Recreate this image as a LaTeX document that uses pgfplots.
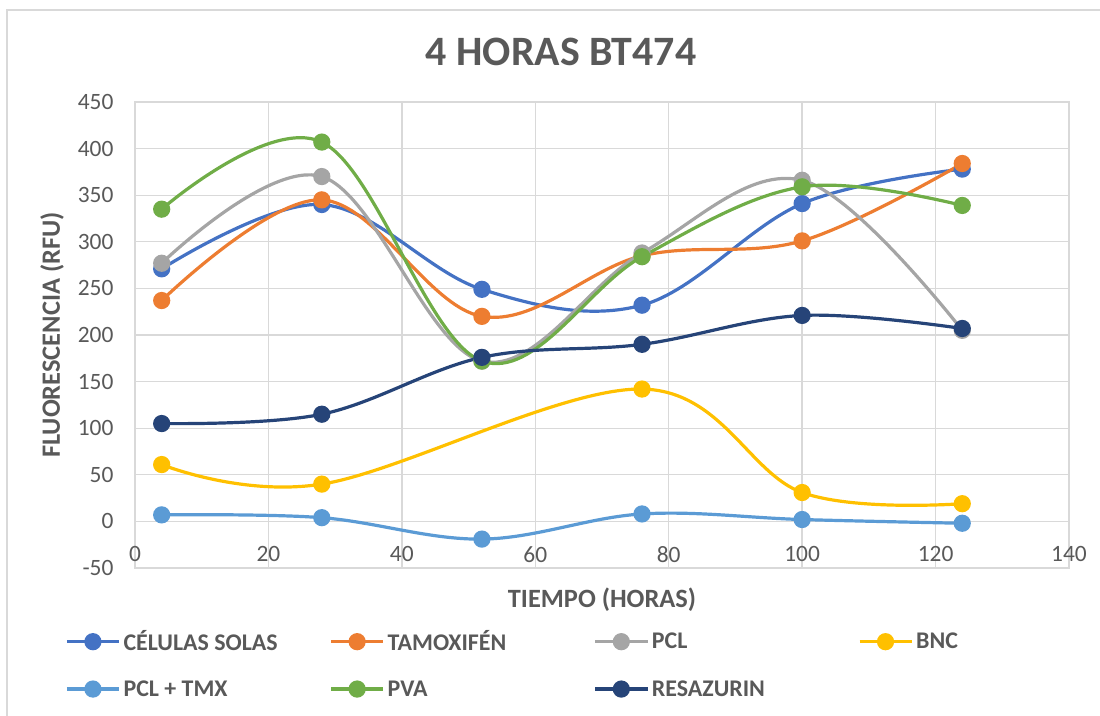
\documentclass[border=0pt]{standalone}
\usepackage{pgfplots}
\pgfplotsset{compat=1.18}
\usepackage{fontspec}
\setmainfont{Carlito}
\definecolor{c1}{HTML}{4472C4}
\definecolor{c2}{HTML}{ED7D31}
\definecolor{c3}{HTML}{A5A5A5}
\definecolor{c4}{HTML}{FFC000}
\definecolor{c5}{HTML}{5B9BD5}
\definecolor{c6}{HTML}{70AD47}
\definecolor{c7}{HTML}{264478}
\definecolor{textc}{HTML}{595959}
\definecolor{gridc}{HTML}{D9D9D9}
\definecolor{axisc}{HTML}{BFBFBF}
\newcommand{\legtxt}[1]{\makebox[203bp][l]{#1}}
\begin{document}
\begin{tikzpicture}
\path[use as bounding box] (-135bp,-148bp) rectangle (965bp,568bp);
\draw[gridc, line width=1.2bp] (-128bp,-160bp) -- (-128bp,558bp) -- (980bp,558bp);
\begin{axis}[
  scale only axis, width=934bp, height=466bp,
  xmin=0, xmax=140, ymin=-50, ymax=450,
  xtick={0,20,...,140}, ytick={-50,0,...,450},
  grid=major, major grid style={draw=gridc, line width=1.3bp},
  axis line style={draw=gridc, line width=1.3bp},
  extra y ticks={0}, extra y tick labels={},
  extra y tick style={grid style={draw=axisc, line width=1.6bp}},
  tick style={draw=none},
  /pgf/number format/assume math mode=true,
  ticklabel style={text=textc, font=\fontsize{23.5}{28}\selectfont},
  yticklabel style={xshift=-18bp},
  xticklabel style={yshift=25bp},
  title={4 HORAS BT474},
  title style={at={(axis description cs:0.5,1)}, anchor=center, yshift=44bp, xshift=-41bp, text=textc, font=\fontsize{42}{48}\selectfont\bfseries},
  xlabel={TIEMPO (HORAS)},
  xlabel style={at={(axis description cs:0.5,0)}, anchor=center, yshift=-32bp, text=textc, font=\fontsize{26.5}{30}\selectfont\bfseries},
  ylabel={FLUORESCENCIA (RFU)},
  ylabel style={at={(axis description cs:-0.0889,0.5)}, anchor=center, text=textc, font=\fontsize{26.5}{30}\selectfont\bfseries},
  every axis plot/.append style={line width=3.2bp, mark=*, mark size=7bp, smooth, tension=0.6},
  legend columns=4,
  legend cell align=left,
  legend image code/.code={\draw[mark repeat=2,mark phase=2] plot coordinates {(0bp,0bp) (26bp,0bp) (52bp,0bp)};},
  legend style={draw=none, fill=none, at={(axis description cs:-0.078,-0.126)}, anchor=north west,
    font=\fontsize{24}{28}\selectfont\bfseries, text=textc, row sep=24bp, column sep=0bp,
    nodes={inner xsep=3bp}},
]
\addplot[color=c1, mark options={fill=c1}] coordinates {(4,271) (28,340) (52,249) (76,232) (100,341) (124,378)};
\addlegendentry{\legtxt{CÉLULAS SOLAS}}
\addplot[color=c2, mark options={fill=c2}] coordinates {(4,237) (28,345) (52,220) (76,285) (100,301) (124,384)};
\addlegendentry{\legtxt{TAMOXIFÉN}}
\addplot[color=c3, mark options={fill=c3}] coordinates {(4,277) (28,370) (52,172) (76,288) (100,366) (124,205)};
\addlegendentry{\legtxt{PCL}}
\addplot[color=c4, mark options={fill=c4}] coordinates {(4,61) (28,40) (76,142) (100,31) (124,19)};
\addlegendentry{\legtxt{BNC}}
\addplot[color=c5, mark options={fill=c5}] coordinates {(4,7) (28,4) (52,-19) (76,8) (100,2) (124,-2)};
\addlegendentry{\legtxt{PCL + TMX}}
\addplot[color=c6, mark options={fill=c6}] coordinates {(4,335) (28,407) (52,172) (76,284) (100,359) (124,339)};
\addlegendentry{\legtxt{PVA}}
\addplot[color=c7, mark options={fill=c7}] coordinates {(4,105) (28,115) (52,176) (76,190) (100,221) (124,207)};
\addlegendentry{\legtxt{RESAZURIN}}
\end{axis}
\end{tikzpicture}
\end{document}
